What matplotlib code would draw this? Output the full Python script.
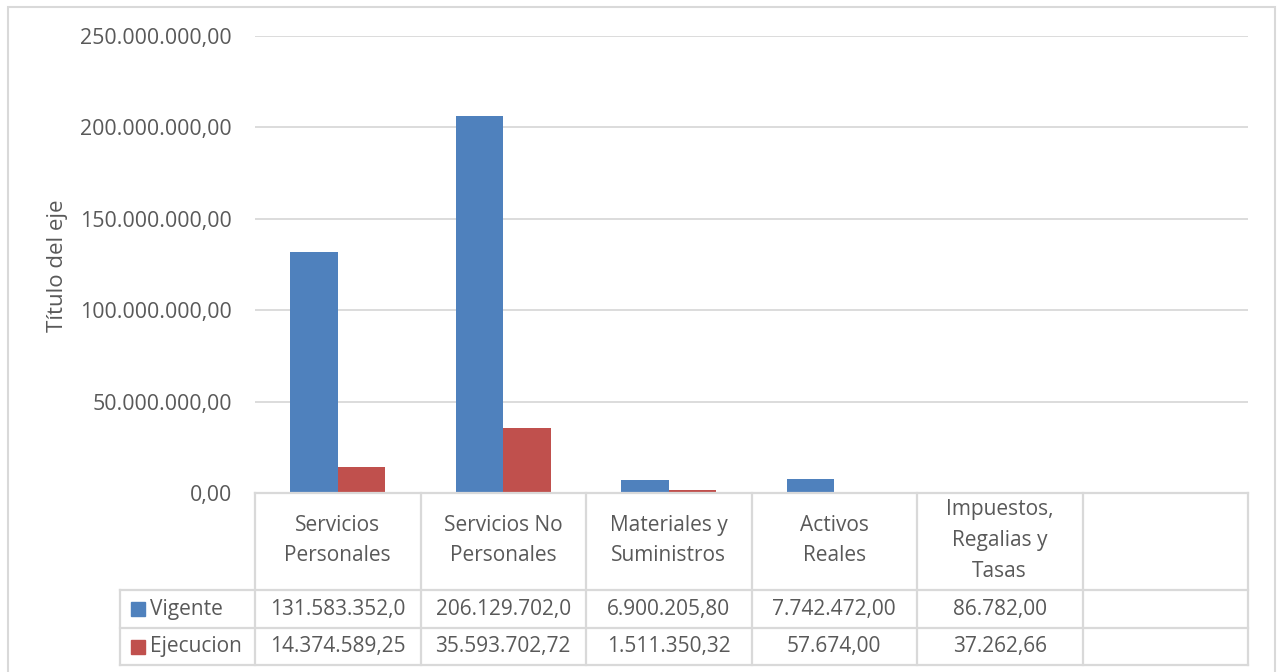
import matplotlib
matplotlib.use("Agg")
import matplotlib.pyplot as plt
from matplotlib.lines import Line2D
from matplotlib.patches import Rectangle
from matplotlib.transforms import blended_transform_factory

plt.rcParams['font.family'] = ['Open Sans', 'DejaVu Sans']

categories = ["Servicios\nPersonales", "Servicios No\nPersonales", "Materiales y\nSuministros",
              "Activos\nReales", "Impuestos,\nRegalias y\nTasas", ""]
vigente = [131583352.0, 206129702.0, 6900205.80, 7742472.00, 86782.00, None]
ejecucion = [14374589.25, 35593702.72, 1511350.32, 57674.00, 37262.66, None]
vigente_txt = ["131.583.352,0", "206.129.702,0", "6.900.205,80", "7.742.472,00", "86.782,00", ""]
ejecucion_txt = ["14.374.589,25", "35.593.702,72", "1.511.350,32", "57.674,00", "37.262,66", ""]
series = [("Vigente", vigente, vigente_txt, "#4f81bd"),
          ("Ejecucion", ejecucion, ejecucion_txt, "#c0504d")]
yticks = [0, 50e6, 100e6, 150e6, 200e6, 250e6]

W, H = 1278, 672
fig = plt.figure(figsize=(W / 100, H / 100), dpi=100)
TXT = "#595959"
GRID = "#d9d9d9"

def fy(py):
    return 1 - py / H

ax = fig.add_axes([255 / W, fy(493), (1248 - 255) / W, (493 - 36) / H])
n = len(categories)
bw = 0.287
for i, (name, vals, _, col) in enumerate(series):
    xs = [k for k in range(n) if vals[k] is not None]
    ys = [vals[k] for k in xs]
    ax.bar([x + (i - 0.5) * bw for x in xs], ys, width=bw, color=col, zorder=3)

ax.set_xlim(-0.5, n - 0.5)
ax.set_ylim(0, 250e6)
ax.set_yticks(yticks)
ax.set_yticklabels([f"{v:,.2f}".replace(",", "X").replace(".", ",").replace("X", ".") for v in yticks])
ax.tick_params(axis='y', length=0, pad=16.5, labelsize=15.4, labelcolor=TXT)
ax.set_xticks([])
ax.grid(axis='y', color=GRID, linewidth=1.3, zorder=0)
for s in ax.spines.values():
    s.set_visible(False)
fig.text(58 / W, fy(266), "Título del eje", rotation=90, ha='center', va='center',
         fontsize=16, color=TXT)

# data table below the axis
tr = blended_transform_factory(ax.transData, fig.transFigure)
rows = [493, 590, 628, 665]
lw = 1.6
# horizontal lines
fig.add_artist(Line2D([-0.5, n - 0.5], [fy(rows[0])] * 2, transform=tr, color=GRID, lw=lw))
for r in rows[1:]:
    fig.add_artist(Line2D([120 / W, 1248 / W], [fy(r)] * 2, transform=fig.transFigure, color=GRID, lw=lw))
# vertical lines
for k in range(n + 1):
    fig.add_artist(Line2D([k - 0.5] * 2, [fy(rows[0]), fy(rows[-1])], transform=tr, color=GRID, lw=lw))
fig.add_artist(Line2D([120 / W] * 2, [fy(rows[1]), fy(rows[-1])], transform=fig.transFigure, color=GRID, lw=lw))

for k, c in enumerate(categories):
    fig.text(k, fy((rows[0] + rows[1]) / 2 - 1), c, transform=tr, ha='center', va='center',
             fontsize=15, color=TXT, linespacing=1.6)
for j, (name, vals, txts, col) in enumerate(series):
    yc = fy((rows[j + 1] + rows[j + 2]) / 2)
    for k, t in enumerate(txts):
        fig.text(k, yc, t, transform=tr, ha='center', va='center', fontsize=15, color=TXT)
    fig.add_artist(Rectangle((131 / W, yc - 7 / H), 14 / W, 14 / H, transform=fig.transFigure,
                             color=col))
    fig.text(150 / W, yc, name, ha='left', va='center', fontsize=15, color=TXT)

# chart border
fig.add_artist(Rectangle((8 / W, -0.01), (1275 - 8) / W, fy(7) + 0.01, transform=fig.transFigure,
                         fill=False, edgecolor=GRID, lw=1.5))

fig.savefig("out.png", dpi=100)
